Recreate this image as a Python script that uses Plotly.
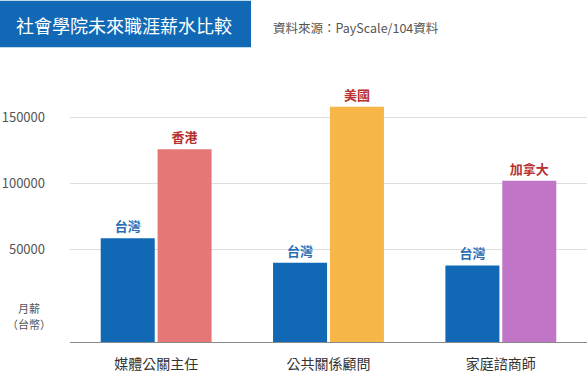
import plotly.graph_objects as go

categories = ["媒體公關主任", "公共關係顧問", "家庭諮商師"]
taiwan_values = [58600, 40000, 38000]
foreign_values = [126000, 158000, 102000]
foreign_names = ["香港", "美國", "加拿大"]
foreign_colors = ["#E57777", "#F7B748", "#C175C6"]
taiwan_name = "台灣"
y_ticks = [50000, 100000, 150000]

FONT = "Noto Sans CJK TC"
y_min = -20000

fig = go.Figure()
fig.add_trace(go.Bar(
    x=categories, y=[v - y_min for v in taiwan_values], base=y_min,
    marker=dict(color="#1169B6", line=dict(width=0)),
    text=[taiwan_name] * len(categories), textposition="outside",
    textfont=dict(family=FONT, size=13, color="#2A6DB5", weight="bold"),
    cliponaxis=False, hoverinfo="skip",
))
fig.add_trace(go.Bar(
    x=categories, y=[v - y_min for v in foreign_values], base=y_min,
    marker=dict(color=foreign_colors, line=dict(width=0)),
    text=foreign_names, textposition="outside",
    textfont=dict(family=FONT, size=13, color="#B8302F", weight="bold"),
    cliponaxis=False, hoverinfo="skip",
))

fig.update_layout(
    width=587, height=373,
    margin=dict(l=70, r=0, t=91, b=29),
    paper_bgcolor="white", plot_bgcolor="white",
    barmode="group", bargap=0.34, bargroupgap=0.05,
    showlegend=False,
    font=dict(family=FONT, color="#444"),
    xaxis=dict(
        showgrid=False, showline=True, linecolor="#8a8a8a", linewidth=1,
        ticks="", tickfont=dict(family=FONT, size=14, color="#333"),
        ticklabelstandoff=9, fixedrange=True,
    ),
    yaxis=dict(
        range=[y_min, 170000], tickvals=y_ticks,
        ticktext=[str(v) for v in y_ticks],
        showgrid=True, gridcolor="#dddddd", gridwidth=1,
        zeroline=False, showline=False, ticks="",
        tickfont=dict(family=FONT, size=13, color="#555"),
        ticklabelstandoff=24, fixedrange=True,
    ),
)


# paper-coordinate helpers: plot area spans x 70..587 px, y 91..344 px
def py(px):
    return (344 - px) / 253.0


def pxx(px):
    return (px - 70) / 517.0


fig.layout.shapes = [dict(type="rect", xref="paper", yref="paper",
                          x0=pxx(0), x1=pxx(251), y0=py(47), y1=py(0),
                          fillcolor="#1169B6", line=dict(width=0))]

fig.add_annotation(x=pxx(14), y=py(24), xref="paper", yref="paper",
                   xanchor="left", yanchor="middle", showarrow=False,
                   text="社會學院未來職涯薪水比較",
                   font=dict(family=FONT, size=18, color="white"))
fig.add_annotation(x=pxx(271), y=py(27), xref="paper", yref="paper",
                   xanchor="left", yanchor="middle", showarrow=False,
                   text="資料來源：PayScale/104資料",
                   font=dict(family=FONT, size=12.5, color="#555"))
fig.add_annotation(x=pxx(29), y=py(310), xref="paper", yref="paper",
                   xanchor="center", yanchor="middle", showarrow=False,
                   text="月薪", font=dict(family=FONT, size=11, color="#555"))
fig.add_annotation(x=pxx(29), y=py(326), xref="paper", yref="paper",
                   xanchor="center", yanchor="middle", showarrow=False,
                   text="（台幣）", font=dict(family=FONT, size=11, color="#555"))

fig.write_html("out.html",
               config={"displayModeBar": False, "staticPlot": True},
               post_script="document.body.style.margin='0';document.body.style.overflow='hidden';")
